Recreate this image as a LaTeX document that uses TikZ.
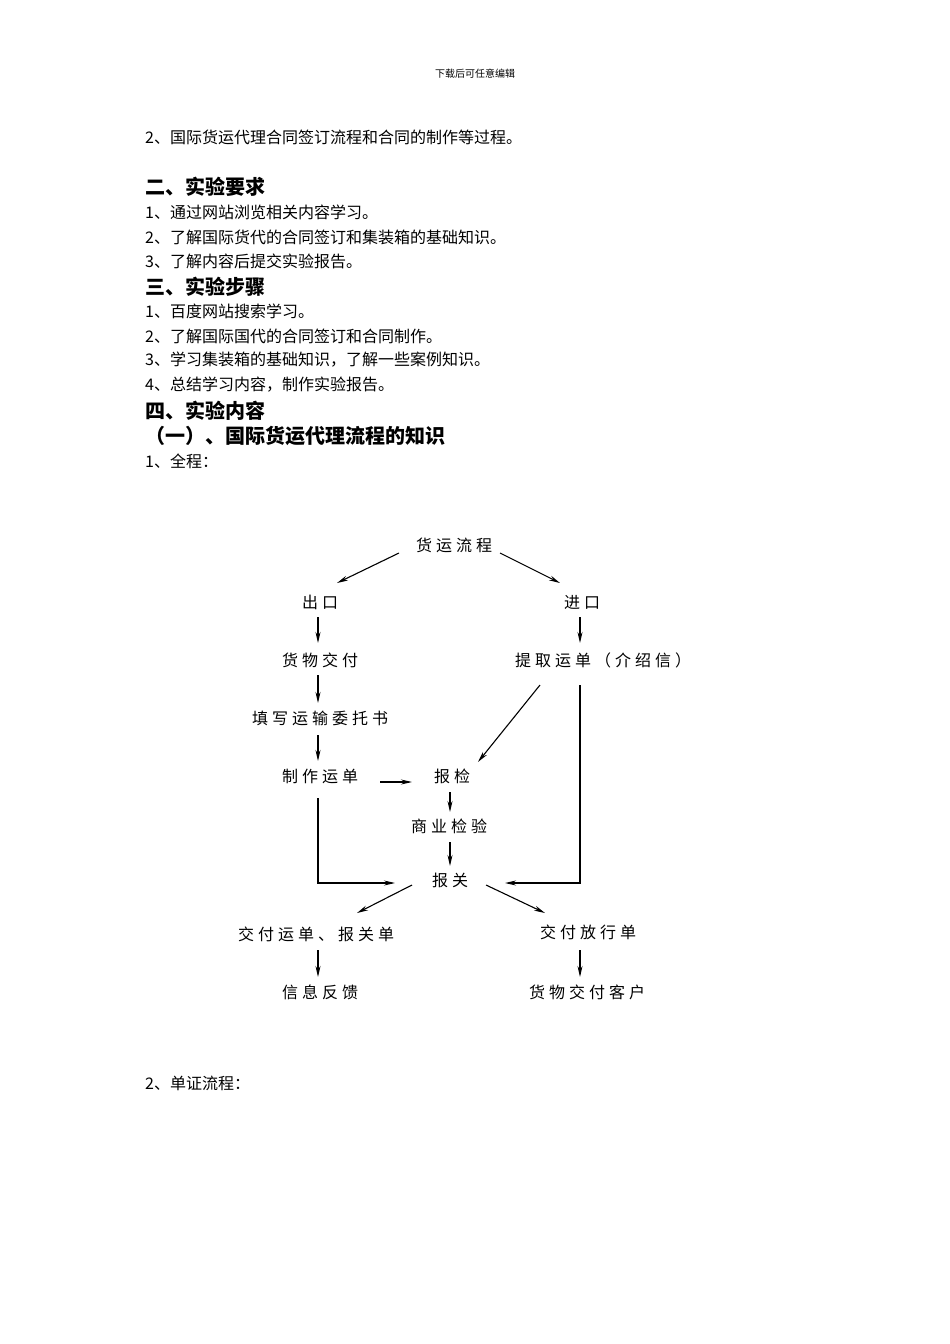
\documentclass[tikz,border=0pt]{standalone}
\usepackage{fontspec}
\newfontfamily\cjk{Noto Sans CJK SC}
\newfontfamily\cjkd[LetterSpace=25]{Noto Sans CJK SC}
\usetikzlibrary{arrows.meta}
\begin{document}
\begin{tikzpicture}[x=1pt,y=-1pt,
  body/.style={anchor=west,font=\cjk\fontsize{16}{18}\selectfont,inner sep=0},
  head/.style={anchor=west,font=\cjk\bfseries\fontsize{20}{22}\selectfont,inner sep=0},
  fn/.style={font=\cjkd\fontsize{16}{18}\selectfont,inner sep=3pt},
  arr/.style={-{Stealth[length=11pt,width=5pt]},line width=1.1pt}]
\useasboundingbox (0,0) rectangle (950,1344);
\node[font=\cjk\fontsize{10}{12}\selectfont] (hdr) at (475,74) {下载后可任意编辑};
\node[body] (l1) at (145,137) {2、国际货运代理合同签订流程和合同的制作等过程。};
\node[head] (h2) at (145,187) {二、实验要求};
\node[body] (l2) at (145,212) {1、通过网站浏览相关内容学习。};
\node[body] (l3) at (145,237) {2、了解国际货代的合同签订和集装箱的基础知识。};
\node[body] (l4) at (145,261) {3、了解内容后提交实验报告。};
\node[head] (h3) at (145,287) {三、实验步骤};
\node[body] (l5) at (145,311) {1、百度网站搜索学习。};
\node[body] (l6) at (145,336) {2、了解国际国代的合同签订和合同制作。};
\node[body] (l7) at (145,360) {3、学习集装箱的基础知识，了解一些案例知识。};
\node[body] (l8) at (145,385) {4、总结学习内容，制作实验报告。};
\node[head] (h4) at (145,411) {四、实验内容};
\node[head] (h5) at (145,436) {（一）、国际货运代理流程的知识};
\node[body] (l9) at (145,461) {1、全程：};
\node[body] (l10) at (145,1083) {2、单证流程：};

\node[fn] (a) at (454,545) {货运流程};
\node[fn] (ck) at (320,602) {出口};
\node[fn] (jk) at (582,602) {进口};
\node[fn] (hw) at (320,660) {货物交付};
\node[fn] (tq) at (603,660) {提取运单（介绍信）};
\node[fn] (tx) at (320,718) {填写运输委托书};
\node[fn] (zz) at (320,776) {制作运单};
\node[fn] (bj) at (452,776) {报检};
\node[fn] (sy) at (449,826) {商业检验};
\node[fn] (bg) at (450,880) {报关};
\node[fn] (jf) at (316,934) {交付运单、报关单};
\node[fn] (fx) at (588,932) {交付放行单};
\node[fn] (xx) at (320,992) {信息反馈};
\node[fn] (kh) at (587,992) {货物交付客户};

\coordinate (c1) at (318,883);
\coordinate (c2) at (580,883);
\draw[arr] (399,553) -- (337,583);
\draw[arr] (500,553) -- (560,583);
\draw[arr] (318,617) -- (318,643);
\draw[arr] (580,617) -- (580,643);
\draw[arr] (318,675) -- (318,703);
\draw[arr] (318,735) -- (318,761);
\draw[arr] (540,685) -- (478,762);
\draw[arr] (380,782) -- (412,782);
\draw[arr] (450,792) -- (450,812);
\draw[arr] (450,842) -- (450,866);
\draw[arr] (318,798) -- (c1) -- (395,883);
\draw[arr] (580,685) -- (c2) -- (505,883);
\draw[arr] (412,885) -- (357,913);
\draw[arr] (486,885) -- (545,913);
\draw[arr] (318,950) -- (318,977);
\draw[arr] (580,950) -- (580,977);
\end{tikzpicture}
\end{document}
